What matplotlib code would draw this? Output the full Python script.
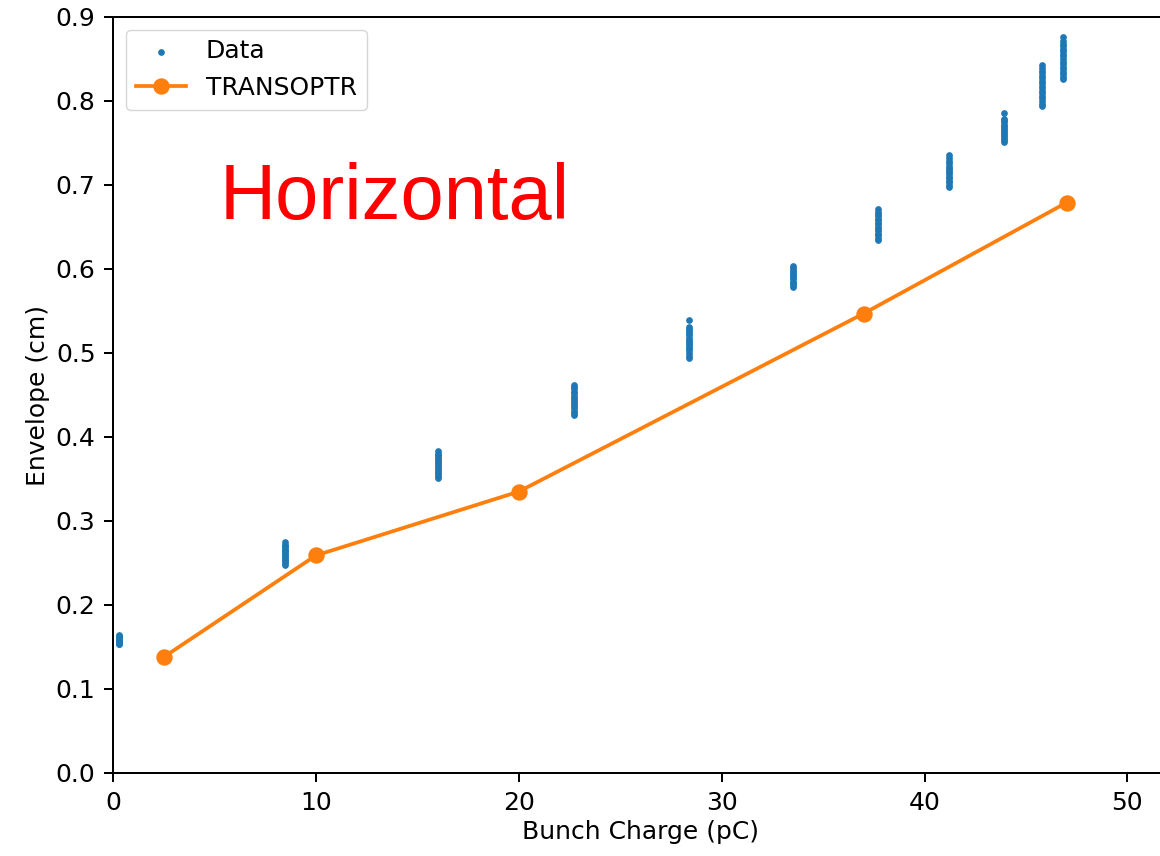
#!/usr/bin/env python3
"""
Horizontal envelope vs bunch charge: measured data and TRANSOPTR model
"""

import matplotlib
matplotlib.use("Agg")
import matplotlib.pyplot as plt

# Measured envelope samples, grouped by bunch charge (pC -> cm)
data_charge = [0.3, 8.5, 16.0, 22.7, 28.4, 33.5, 37.7, 41.2, 43.9, 45.8, 46.8]
data_envelope = [
    [0.153, 0.154, 0.156, 0.157, 0.158, 0.159, 0.160, 0.161, 0.162, 0.163, 0.164],
    [0.248, 0.250, 0.252, 0.254, 0.256, 0.258, 0.260, 0.262, 0.264, 0.266,
     0.268, 0.270, 0.272, 0.275],
    [0.351, 0.353, 0.356, 0.358, 0.361, 0.363, 0.366, 0.368, 0.370, 0.372,
     0.374, 0.376, 0.378, 0.380, 0.383],
    [0.426, 0.429, 0.431, 0.434, 0.437, 0.439, 0.442, 0.444, 0.447, 0.449,
     0.452, 0.454, 0.457, 0.459, 0.462],
    [0.494, 0.497, 0.500, 0.503, 0.506, 0.508, 0.511, 0.513, 0.516, 0.518,
     0.521, 0.524, 0.526, 0.529, 0.531, 0.539],
    [0.579, 0.581, 0.583, 0.585, 0.588, 0.590, 0.592, 0.594, 0.597, 0.599,
     0.601, 0.604],
    [0.634, 0.637, 0.640, 0.642, 0.645, 0.648, 0.650, 0.653, 0.655, 0.658,
     0.660, 0.663, 0.665, 0.668, 0.671],
    [0.698, 0.700, 0.703, 0.705, 0.708, 0.710, 0.713, 0.715, 0.718, 0.720,
     0.723, 0.726, 0.729, 0.732, 0.736],
    [0.751, 0.753, 0.756, 0.758, 0.761, 0.763, 0.765, 0.768, 0.770, 0.772,
     0.775, 0.777, 0.779, 0.786],
    [0.794, 0.797, 0.800, 0.803, 0.806, 0.809, 0.812, 0.815, 0.818, 0.821,
     0.824, 0.827, 0.830, 0.833, 0.836, 0.839, 0.843],
    [0.826, 0.829, 0.832, 0.835, 0.838, 0.841, 0.844, 0.847, 0.850, 0.853,
     0.856, 0.859, 0.862, 0.865, 0.868, 0.872, 0.876],
]

# TRANSOPTR model
model_charge = [2.5, 10.0, 20.0, 37.0, 47.0]
model_envelope = [0.138, 0.259, 0.335, 0.547, 0.679]

S = 1.8  # scale factor of the original figure


def main():
    plt.rcParams["font.size"] = 10 * S
    plt.rcParams["axes.linewidth"] = 0.8 * S
    for a in ("xtick", "ytick"):
        plt.rcParams[f"{a}.major.size"] = 3.5 * S
        plt.rcParams[f"{a}.major.width"] = 0.8 * S
        plt.rcParams[f"{a}.major.pad"] = 3.5 * S

    fig = plt.figure(figsize=(11.6, 8.56), dpi=100)
    ax = fig.add_axes([113 / 1160, 83 / 856, (1168 - 113) / 1160, (773 - 17) / 856])

    xs, ys = [], []
    for q, env in zip(data_charge, data_envelope):
        xs += [q] * len(env)
        ys += env
    ax.scatter(xs, ys, s=4.5 * S * S, color="#1f77b4", label="Data", zorder=2)
    ax.plot(model_charge, model_envelope, "-o", color="#ff7f0e",
            linewidth=1.5 * S, markersize=6 * S, label="TRANSOPTR", zorder=3)

    ax.set_xlim(0, 52)
    ax.set_ylim(0, 0.9)
    ax.set_xticks([0, 10, 20, 30, 40, 50])
    ax.set_yticks([i / 10 for i in range(10)])
    ax.set_xlabel("Bunch Charge (pC)")
    ax.set_ylabel("Envelope (cm)")
    ax.legend(loc="upper left")

    fig.text(220 / 1160, (856 - 219) / 856, "Horizontal", color="red",
             fontsize=56, family="Liberation Sans", va="baseline", ha="left")

    plt.savefig("out.png", dpi=100)
    plt.close()


if __name__ == "__main__":
    main()
